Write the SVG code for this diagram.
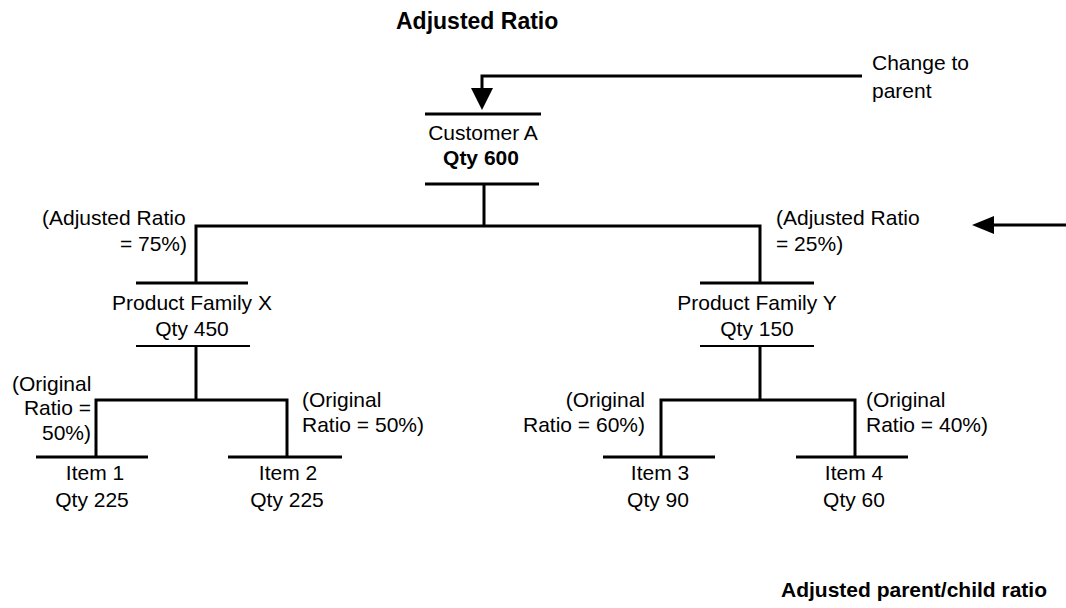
<svg xmlns="http://www.w3.org/2000/svg" width="1066" height="608" viewBox="0 0 1066 608">
  <style>
    text { font-family: "Liberation Sans", Arial, sans-serif; font-size: 21px; fill: #000; }
    .c { text-anchor: middle; }
    .e { text-anchor: end; }
    .b { font-weight: bold; }
    .title { font-weight: bold; font-size: 23px; }
    .ln { stroke: #000; stroke-width: 3; fill: none; }
    .thin { stroke: #000; stroke-width: 2; fill: none; }
  </style>
  <rect width="1066" height="608" fill="#fff"/>

  <text id="title" class="title" x="396" y="29">Adjusted Ratio</text>
  <text id="caption" class="b" x="781" y="597">Adjusted parent/child ratio</text>

  <g id="change-note">
    <text x="872" y="70">Change to</text>
    <text x="872" y="98">parent</text>
  </g>

  <g id="customer-a">
    <line class="ln" x1="425" y1="114" x2="541" y2="114"/>
    <text class="c" x="483" y="140">Customer A</text>
    <text class="c b" x="481" y="165">Qty 600</text>
    <line class="ln" x1="425" y1="184" x2="539" y2="184"/>
  </g>

  <g id="family-x">
    <line class="ln" x1="136" y1="283" x2="248" y2="283"/>
    <text class="c" x="192" y="310">Product Family X</text>
    <text class="c" x="192" y="336">Qty 450</text>
    <line class="thin" x1="136" y1="346" x2="250" y2="346"/>
  </g>

  <g id="family-y">
    <line class="ln" x1="700" y1="283" x2="814" y2="283"/>
    <text class="c" x="757" y="310">Product Family Y</text>
    <text class="c" x="757" y="336">Qty 150</text>
    <line class="thin" x1="700" y1="346" x2="814" y2="346"/>
  </g>

  <g id="item-1">
    <line class="ln" x1="36" y1="457" x2="148" y2="457"/>
    <text class="c" x="95" y="480">Item 1</text>
    <text class="c" x="92" y="507">Qty 225</text>
  </g>
  <g id="item-2">
    <line class="ln" x1="228" y1="457" x2="342" y2="457"/>
    <text class="c" x="288" y="480">Item 2</text>
    <text class="c" x="287" y="507">Qty 225</text>
  </g>
  <g id="item-3">
    <line class="ln" x1="603" y1="457" x2="715" y2="457"/>
    <text class="c" x="660" y="480">Item 3</text>
    <text class="c" x="658" y="507">Qty 90</text>
  </g>
  <g id="item-4">
    <line class="ln" x1="796" y1="457" x2="908" y2="457"/>
    <text class="c" x="854" y="480">Item 4</text>
    <text class="c" x="854" y="507">Qty 60</text>
  </g>

  <g id="ratio-labels">
    <text x="42" y="225">(Adjusted Ratio</text>
    <text class="e" x="187" y="251">= 75%)</text>
    <text x="776" y="225">(Adjusted Ratio</text>
    <text x="776" y="251">= 25%)</text>
    <text x="12" y="391">(Original</text>
    <text class="e" x="91" y="415">Ratio =</text>
    <text class="e" x="91" y="440">50%)</text>
    <text x="302" y="407">(Original</text>
    <text x="302" y="432">Ratio = 50%)</text>
    <text class="e" x="645" y="407">(Original</text>
    <text class="e" x="645" y="432">Ratio = 60%)</text>
    <text x="866" y="407">(Original</text>
    <text x="866" y="432">Ratio = 40%)</text>
  </g>

  <g id="connectors">
    <!-- change feed into the parent -->
    <polyline class="ln" points="862,76 482,76 482,92"/>
    <polygon points="471,88 493,88 482,110" fill="#000"/>
    <!-- parent to families -->
    <line class="ln" x1="484" y1="184" x2="484" y2="226"/>
    <polyline class="ln" points="196,283 196,226 760,226 760,283"/>
    <!-- family X to items -->
    <line class="ln" x1="196" y1="346" x2="196" y2="400"/>
    <polyline class="ln" points="96,457 96,400 287,400 287,457"/>
    <!-- family Y to items -->
    <line class="ln" x1="760" y1="346" x2="760" y2="400"/>
    <polyline class="ln" points="661,457 661,400 855,400 855,457"/>
    <!-- pointer to the adjusted ratio -->
    <line class="ln" x1="992" y1="225" x2="1066" y2="225"/>
    <polygon points="972,225 994,216 994,234" fill="#000"/>
  </g>
</svg>
